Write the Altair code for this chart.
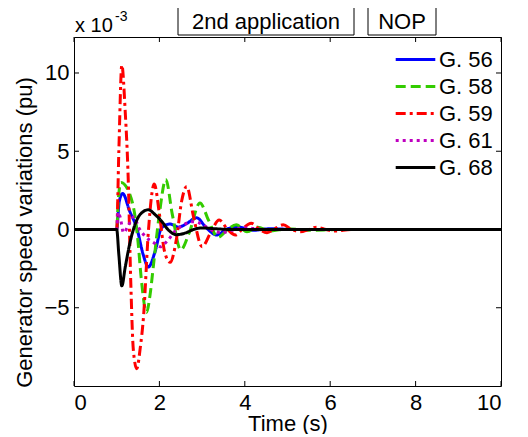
import altair as alt
import pandas as pd

series = ["G. 56", "G. 58", "G. 59", "G. 61", "G. 68"]
colors = ["#0000ff", "#33cc00", "#ff0000", "#bf00bf", "#000000"]
dashes = [[1, 0], [10, 5], [10, 4, 3, 4], [3, 4], [1, 0]]

x_ticks = [0, 2, 4, 6, 8, 10]
y_ticks = [-5, 0, 5, 10]

t56 = [0, 1.0, 1.06, 1.14, 1.3, 1.48, 1.62, 1.74, 1.9, 2.05, 2.25, 2.45, 2.65, 2.87, 3.1, 3.34, 3.6, 3.85, 4.2, 4.6, 5.2, 6.0, 10]
v56 = [0, 0, 1.8, 2.3, 1.2, 0.0, -1.6, -2.4, -1.4, 0.1, 0.35, 0.15, 0.4, 0.75, 0.1, -0.35, 0.05, 0.15, -0.05, 0.05, 0, 0, 0]

t58 = [0, 1.0, 1.04, 1.1, 1.3, 1.42, 1.5, 1.57, 1.7, 1.78, 1.86, 2.0, 2.15, 2.3, 2.5, 2.7, 2.95, 3.15, 3.37, 3.6, 3.8, 4.05, 4.3, 4.6, 5.0, 5.5, 6.2, 10]
v58 = [0, 0, 2.0, 3.0, 2.3, 1.0, -0.8, -3.0, -5.3, -4.2, -2.3, 1.0, 3.2, 1.0, -1.3, -0.2, 1.7, 0.6, -0.5, 0.0, 0.3, -0.15, 0.15, -0.1, 0.05, -0.05, 0, 0]

t59 = [0, 1.0, 1.05, 1.12, 1.2, 1.27, 1.33, 1.39, 1.47, 1.55, 1.63, 1.74, 1.88, 2.0, 2.12, 2.25, 2.4, 2.52, 2.64, 2.8, 3.0, 3.2, 3.4, 3.6, 3.78, 3.95, 4.15, 4.35, 4.52, 4.7, 4.9, 5.1, 5.3, 5.5, 5.68, 5.9, 6.1, 6.5, 10]
v59 = [0, 0, 5.0, 10.5, 7.5, 3.2, -3.4, -7.7, -8.9, -7.6, -5.5, -0.2, 2.9, 1.0, -1.4, -2.1, -0.6, 1.8, 2.75, 0.8, -1.1, -0.2, 0.6, 0.0, -0.35, 0.05, 0.4, 0.0, -0.2, 0.05, 0.3, 0.0, -0.15, 0.0, 0.15, 0.0, -0.1, 0, 0]

t61 = [0, 1.0, 1.03, 1.08, 1.16, 1.28, 1.4, 1.52, 1.67, 1.87, 2.02, 2.18, 2.37, 2.57, 2.77, 2.95, 3.2, 3.45, 3.7, 4.0, 4.5, 10]
v61 = [0, 0, 1.1, 0.8, -0.2, 0.3, 0.8, 0.1, -0.45, -0.85, -1.1, -0.75, -0.1, 0.3, 0.5, 0.4, 0.0, -0.2, -0.05, 0.1, 0, 0]

t68 = [0, 1.0, 1.05, 1.12, 1.2, 1.31, 1.47, 1.6, 1.74, 1.9, 2.06, 2.2, 2.4, 2.61, 2.8, 3.0, 3.3, 3.7, 10]
v68 = [0, 0, -1.6, -3.6, -2.4, -0.85, 0.6, 1.1, 1.26, 0.95, 0.5, 0.0, -0.33, -0.22, 0.0, 0.1, 0.05, 0.0, 0]

rows = []
for name, ts, vs in zip(series, [t56, t58, t59, t61, t68], [v56, v58, v59, v61, v68]):
    for i, (t, v) in enumerate(zip(ts, vs)):
        rows.append({"series": name, "t": t, "v": v, "i": i})
df = pd.DataFrame(rows)

W, H = 427, 349
FONT = "Liberation Sans"
FS = 22

xscale = alt.Scale(domain=[0, 10], nice=False, zero=False)
yscale = alt.Scale(domain=[-10, 12.3], nice=False, zero=False)

legend = alt.Legend(
    title=None, orient="none", legendX=329, legendY=10,
    symbolType="M-1.8,0H1.8", symbolSize=484, symbolStrokeWidth=3,
    labelFontSize=FS, labelFont=FONT, labelColor="black",
    padding=0, rowPadding=3, labelOffset=11,
)

lines = alt.Chart(df).mark_line(interpolate="monotone", strokeWidth=3).encode(
    x=alt.X("t:Q", scale=xscale,
            axis=alt.Axis(values=x_ticks, title="Time (s)", ticks=False, domain=False, grid=False,
                          labelPadding=6, titlePadding=0)),
    y=alt.Y("v:Q", scale=yscale,
            axis=alt.Axis(values=y_ticks, title="Generator speed variations (pu)", ticks=False,
                          domain=False, grid=False, labelPadding=5, titleX=-50, titleY=195,
                          titleAngle=-90, titleBaseline="middle", titleAlign="center")),
    color=alt.Color("series:N", scale=alt.Scale(domain=series, range=colors), legend=legend),
    strokeDash=alt.StrokeDash("series:N", scale=alt.Scale(domain=series, range=dashes), legend=legend),
    order="i:Q",
)

xt = pd.DataFrame({"t": x_ticks})
yt = pd.DataFrame({"v": y_ticks})
tick_b = alt.Chart(xt).mark_rule(color="black").encode(x=alt.X("t:Q", scale=xscale), y=alt.value(H), y2=alt.value(H - 5))
tick_t = alt.Chart(xt).mark_rule(color="black").encode(x=alt.X("t:Q", scale=xscale), y=alt.value(0), y2=alt.value(5))
tick_l = alt.Chart(yt).mark_rule(color="black").encode(y=alt.Y("v:Q", scale=yscale), x=alt.value(0), x2=alt.value(5))
tick_r = alt.Chart(yt).mark_rule(color="black").encode(y=alt.Y("v:Q", scale=yscale), x=alt.value(W), x2=alt.value(W - 5))

box1 = alt.Chart(pd.DataFrame({"a": [0]})).mark_rect(fill="white", stroke="black", strokeWidth=1).encode(
    x=alt.value(104), x2=alt.value(280), y=alt.value(-30), y2=alt.value(-2))
txt1 = alt.Chart(pd.DataFrame({"s": ["2nd application"]})).mark_text(
    font=FONT, fontSize=FS, color="black", baseline="middle", align="center").encode(
    text="s:N", x=alt.value(192), y=alt.value(-15))
box2 = alt.Chart(pd.DataFrame({"a": [0]})).mark_rect(fill="white", stroke="black", strokeWidth=1).encode(
    x=alt.value(294), x2=alt.value(362), y=alt.value(-30), y2=alt.value(-2))
txt2 = alt.Chart(pd.DataFrame({"s": ["NOP"]})).mark_text(
    font=FONT, fontSize=FS, color="black", baseline="middle", align="center").encode(
    text="s:N", x=alt.value(328), y=alt.value(-15))
exp1 = alt.Chart(pd.DataFrame({"s": ["x 10"]})).mark_text(
    font=FONT, fontSize=20, color="black", baseline="alphabetic", align="left").encode(
    text="s:N", x=alt.value(1), y=alt.value(-5))
exp2 = alt.Chart(pd.DataFrame({"s": ["-3"]})).mark_text(
    font=FONT, fontSize=14, color="black", baseline="alphabetic", align="left").encode(
    text="s:N", x=alt.value(41), y=alt.value(-16))

chart = alt.layer(lines, tick_b, tick_t, tick_l, tick_r, box1, txt1, box2, txt2, exp1, exp2).properties(
    width=W, height=H,
    background="white",
    autosize=alt.AutoSizeParams(type="none"),
    padding={"left": 66, "top": 29, "right": 19, "bottom": 48},
).configure_view(stroke="black", strokeWidth=1).configure_axis(
    labelFont=FONT, titleFont=FONT, labelFontSize=FS, titleFontSize=FS,
    labelColor="black", titleColor="black", titleFontWeight="normal",
)

chart.save("out.html", embed_options={"renderer": "svg", "actions": False})
